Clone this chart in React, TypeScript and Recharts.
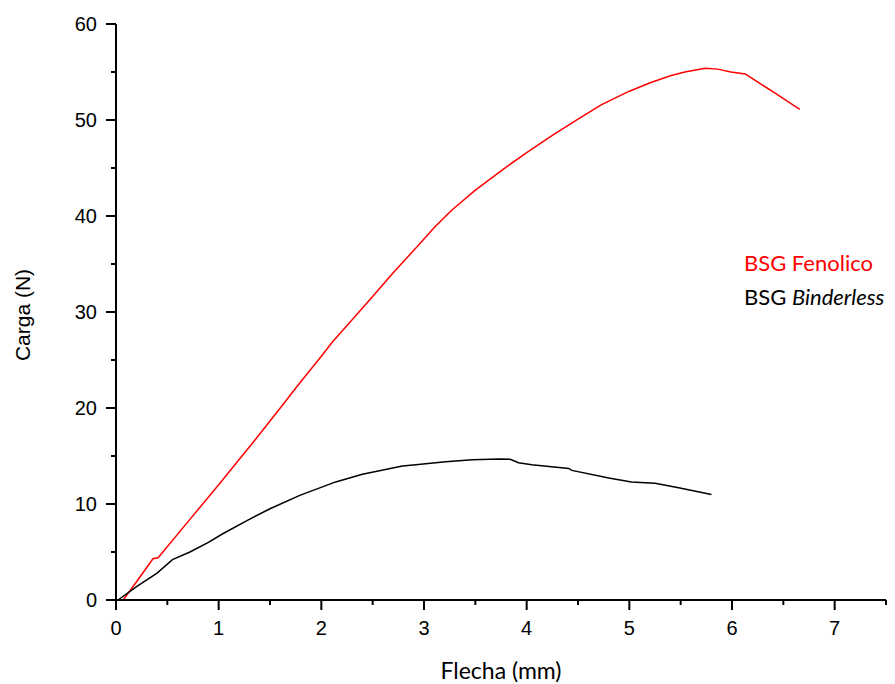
import { LineChart, Line, XAxis, YAxis } from "recharts";

// BSG Fenolico (red)
const fenolicoX = [0.07, 0.2, 0.36, 0.41, 0.72, 1.0, 1.33, 1.6, 1.79, 2.0, 2.11, 2.3, 2.47, 2.7, 2.95, 3.1, 3.27, 3.5, 3.65, 3.8, 4.0, 4.25, 4.5, 4.73, 5.0, 5.21, 5.4, 5.54, 5.74, 5.86, 5.99, 6.13, 6.2, 6.42, 6.66];
const fenolicoY = [0, 1.9, 4.3, 4.4, 8.4, 12.0, 16.35, 20.0, 22.6, 25.4, 26.9, 29.2, 31.25, 34.1, 37.0, 38.8, 40.6, 42.7, 43.9, 45.1, 46.6, 48.4, 50.1, 51.6, 53.0, 53.9, 54.6, 55.0, 55.4, 55.3, 55.0, 54.8, 54.3, 52.8, 51.1];

// BSG Binderless (black)
const binderlessX = [0.02, 0.2, 0.4, 0.55, 0.72, 0.9, 1.04, 1.28, 1.5, 1.79, 2.14, 2.4, 2.79, 2.92, 3.21, 3.47, 3.73, 3.84, 3.92, 4.05, 4.41, 4.44, 4.8, 5.02, 5.25, 5.48, 5.8];
const binderlessY = [0, 1.4, 2.8, 4.2, 5.0, 6.0, 6.9, 8.3, 9.5, 10.9, 12.3, 13.1, 13.96, 14.1, 14.4, 14.6, 14.7, 14.65, 14.3, 14.1, 13.7, 13.5, 12.7, 12.3, 12.15, 11.7, 11.0];

const xTicks = [0, 0.5, 1, 1.5, 2, 2.5, 3, 3.5, 4, 4.5, 5, 5.5, 6, 6.5, 7, 7.5];
const yTicks = [0, 5, 10, 15, 20, 25, 30, 35, 40, 45, 50, 55, 60];

const fenolico = fenolicoX.map((x, i) => ({ x, y: fenolicoY[i] }));
const binderless = binderlessX.map((x, i) => ({ x, y: binderlessY[i] }));

const TICK_FONT = "'Liberation Sans', Arial, sans-serif";
const LABEL_FONT = "Lato, 'Noto Sans', sans-serif";

// eslint-disable-next-line @typescript-eslint/no-explicit-any
function XTick({ x, y, payload }: any) {
  const v = payload.value;
  const major = Number.isInteger(v);
  return (
    <g>
      <line x1={x} x2={x} y1={y} y2={y + (major ? 10 : 5)} stroke="#000" strokeWidth={2} />
      {major && (
        <text x={x} y={y + 35} textAnchor="middle" fontSize={20} style={{ fontFamily: TICK_FONT }} fill="#000">
          {v}
        </text>
      )}
    </g>
  );
}

// eslint-disable-next-line @typescript-eslint/no-explicit-any
function YTick({ x, y, payload }: any) {
  const v = payload.value;
  const major = v % 10 === 0;
  return (
    <g>
      <line x1={x} x2={x - (major ? 10 : 5)} y1={y} y2={y} stroke="#000" strokeWidth={2} />
      {major && (
        <text x={x - 19} y={y + 7} textAnchor="end" fontSize={20} style={{ fontFamily: TICK_FONT }} fill="#000">
          {v}
        </text>
      )}
    </g>
  );
}

export default function App() {
  return (
    <div style={{ position: "absolute", left: 0, top: 0, width: 895, height: 684, background: "#fff" }}>
      <LineChart width={895} height={684} margin={{ top: 24, right: 9, bottom: 0, left: 0 }}>
        <XAxis
          type="number"
          dataKey="x"
          domain={[0, 7.5]}
          ticks={xTicks}
          interval={0}
          height={84}
          tickSize={0}
          tickMargin={0}
          tickLine={false}
          axisLine={{ stroke: "#000", strokeWidth: 2 }}
          tick={<XTick />}
          label={{ value: "Flecha (mm)", position: "insideBottom", offset: 5, fontSize: 23, fontFamily: LABEL_FONT, fill: "#000" }}
        />
        <YAxis
          type="number"
          dataKey="y"
          domain={[0, 60]}
          ticks={yTicks}
          interval={0}
          width={116}
          tickSize={0}
          tickMargin={0}
          tickLine={false}
          axisLine={{ stroke: "#000", strokeWidth: 2 }}
          tick={<YTick />}
          label={{ value: "Carga (N)", angle: -90, position: "insideLeft", offset: 23, dy: 3, fontSize: 21, fontFamily: TICK_FONT, fill: "#000", style: { textAnchor: "middle" } }}
        />
        <Line data={fenolico} dataKey="y" type="linear" stroke="#ff0000" strokeWidth={1.5} dot={false} isAnimationActive={false} />
        <Line data={binderless} dataKey="y" type="linear" stroke="#000" strokeWidth={1.5} dot={false} isAnimationActive={false} />
      </LineChart>
      <div style={{ position: "absolute", left: 744, top: 246, fontFamily: LABEL_FONT, fontSize: 22, lineHeight: "34px", whiteSpace: "nowrap" }}>
        <div style={{ color: "#ff0000" }}>BSG Fenolico</div>
        <div style={{ color: "#000" }}>
          BSG <i>Binderless</i>
        </div>
      </div>
    </div>
  );
}
